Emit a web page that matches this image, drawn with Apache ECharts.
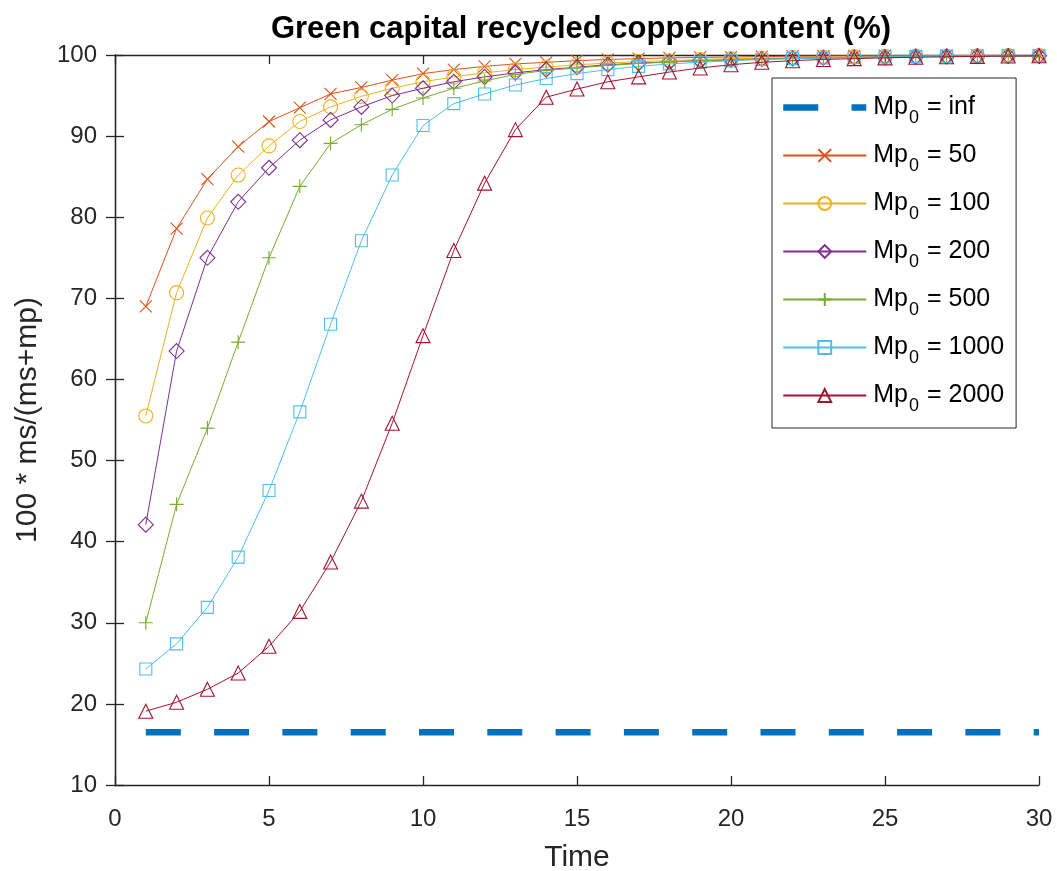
<!DOCTYPE html>
<html>
<head>
<meta charset="utf-8">
<script src="https://cdn.jsdelivr.net/npm/echarts@6/dist/echarts.min.js"></script>
<style>
html,body{margin:0;padding:0;background:#fff;}
#chart{width:1057px;height:871px;}
</style>
</head>
<body>
<div id="chart"></div>
<script>
const time = [1,2,3,4,5,6,7,8,9,10,11,12,13,14,15,16,17,18,19,20,21,22,23,24,25,26,27,28,29,30];
const seriesNames = ['inf','50','100','200','500','1000','2000'];
const mpInf = [16.5,16.5,16.5,16.5,16.5,16.5,16.5,16.5,16.5,16.5,16.5,16.5,16.5,16.5,16.5,16.5,16.5,16.5,16.5,16.5,16.5,16.5,16.5,16.5,16.5,16.5,16.5,16.5,16.5,16.5];
const mp50 = [69.0,78.6,84.7,88.7,91.8,93.5,95.2,96.0,96.9,97.7,98.2,98.6,98.9,99.1,99.3,99.45,99.55,99.65,99.7,99.75,99.8,99.85,99.87,99.9,99.92,99.93,99.94,99.95,99.96,99.97];
const mp100 = [55.5,70.7,79.9,85.2,88.8,91.8,93.6,94.9,95.9,96.7,97.3,97.8,98.2,98.5,98.8,99.0,99.2,99.3,99.45,99.55,99.6,99.7,99.75,99.8,99.83,99.86,99.88,99.9,99.92,99.93];
const mp200 = [42.1,63.5,75.0,81.9,86.1,89.5,92.0,93.6,95.0,95.9,96.7,97.3,97.8,98.2,98.5,98.8,99.0,99.15,99.3,99.4,99.5,99.58,99.65,99.7,99.75,99.8,99.83,99.86,99.88,99.9];
const mp500 = [30.0,44.6,54.0,64.6,75.0,83.8,89.1,91.4,93.3,94.7,95.9,96.8,97.6,98.1,98.4,98.7,98.95,99.15,99.3,99.4,99.5,99.58,99.65,99.7,99.75,99.8,99.83,99.86,99.88,99.9];
const mp1000 = [24.3,27.4,31.9,38.1,46.3,56.0,66.8,77.1,85.2,91.3,94.0,95.2,96.3,97.1,97.7,98.2,98.6,98.9,99.1,99.3,99.45,99.55,99.63,99.7,99.75,99.8,99.84,99.87,99.9,99.92];
const mp2000 = [19.1,20.2,21.8,23.8,27.1,31.4,37.5,45.0,54.6,65.4,75.9,84.2,90.8,94.8,95.8,96.7,97.3,97.9,98.4,98.8,99.1,99.3,99.45,99.55,99.65,99.72,99.78,99.83,99.87,99.9];
const xTicks = [0,5,10,15,20,25,30];
const yTicks = [10,20,30,40,50,60,70,80,90,100];

const FONT = 'Liberation Sans, Arial, Helvetica, sans-serif';
const AX = '#262626';
const colors = ['#0072BD','#D95319','#EDB120','#7E2F8E','#77AC30','#4DBEEE','#A2142F'];
const values = [mpInf, mp50, mp100, mp200, mp500, mp1000, mp2000];
const symbols = ['none','path://M0,0L1,1M1,0L0,1','circle','diamond','path://M0.5,0L0.5,1M0,0.5L1,0.5','rect','triangle'];
const sizes = [0, 12, 14, 15, 14, 12, 14];
const infDash = [35, 33.3];

function pairs(arr){ return time.map((t,i)=>[t, arr[i]]); }

const series = seriesNames.map((n, k) => {
  const s = {
    name: n,
    type: 'line',
    data: pairs(values[k]),
    symbol: symbols[k],
    symbolSize: sizes[k],
    showSymbol: k !== 0,
    animation: false,
    z: k === 0 ? 3 : 2 + k * 0.01,
    lineStyle: {color: colors[k], width: 1},
    itemStyle: {color: 'rgba(0,0,0,0)', borderColor: colors[k], borderWidth: 1.1}
  };
  if (k === 0) {
    s.lineStyle = {color: colors[0], width: 6.5, type: infDash, cap: 'butt'};
    s.itemStyle = {color: colors[0]};
  }
  return s;
});

const chart = echarts.init(document.getElementById('chart'), null, {renderer: 'canvas'});
chart.setOption({
  backgroundColor: '#fff',
  animation: false,
  title: {
    text: 'Green capital recycled copper content (%)',
    left: 576, top: 9, textAlign: 'center',
    textStyle: {fontFamily: FONT, fontWeight: 'bold', fontSize: 31, color: '#000'}
  },
  grid: {left: 115, right: 18, top: 55, bottom: 86, containLabel: false, outerBoundsMode: 'none'},
  legend: {
    orient: 'vertical',
    left: 772, top: 78,
    padding: [17, 12, 13, 8],
    itemWidth: 83, itemHeight: 16, itemGap: 16,
    backgroundColor: '#fff',
    borderColor: AX, borderWidth: 1, borderRadius: 0,
    data: seriesNames.map((n, k) => k === 0
      ? {name: n, itemStyle: {opacity: 0}, lineStyle: {width: 6.5, type: infDash, cap: 'butt', color: colors[0]}}
      : {name: n}),
    formatter: function(name){ return '{g|}Mp{s|0} = ' + name; },
    textStyle: {
      fontFamily: FONT, fontSize: 25, color: '#000',
      rich: {
        g: {width: 2},
        s: {fontFamily: FONT, fontSize: 18, color: '#000', padding: [21, 1, 0, 1]}
      }
    }
  },
  xAxis: [{
    type: 'value', min: 0, max: 30, interval: 5,
    name: 'Time', nameLocation: 'middle', nameGap: 58,
    nameTextStyle: {fontFamily: FONT, fontSize: 30, color: AX},
    axisLine: {show: true, lineStyle: {color: AX, width: 1.3}},
    axisTick: {show: true, inside: true, length: 9, lineStyle: {color: AX, width: 1.3}},
    axisLabel: {fontFamily: FONT, fontSize: 24, color: AX, margin: 22,
      formatter: v => xTicks.indexOf(v) >= 0 ? String(v) : ''},
    splitLine: {show: false}
  }, {
    type: 'value', min: 0, max: 30, interval: 5, position: 'top',
    axisLine: {show: true, lineStyle: {color: AX, width: 1.3}},
    axisTick: {show: true, inside: true, length: 9, lineStyle: {color: AX, width: 1.3}},
    axisLabel: {show: false}, splitLine: {show: false}
  }],
  yAxis: [{
    type: 'value', min: 10, max: 100, interval: 10,
    name: '100 * ms/(ms+mp)', nameLocation: 'middle', nameGap: 72, nameRotate: 90,
    nameTextStyle: {fontFamily: FONT, fontSize: 30, color: AX},
    axisLine: {show: true, lineStyle: {color: AX, width: 1.3}},
    axisTick: {show: true, inside: true, length: 9, lineStyle: {color: AX, width: 1.3}},
    axisLabel: {fontFamily: FONT, fontSize: 24, color: AX, margin: 18,
      formatter: v => yTicks.indexOf(v) >= 0 ? String(v) : ''},
    splitLine: {show: false}
  }, {
    type: 'value', min: 10, max: 100, interval: 10, position: 'right',
    axisLine: {show: true, lineStyle: {color: AX, width: 1.3}},
    axisTick: {show: true, inside: true, length: 9, lineStyle: {color: AX, width: 1.3}},
    axisLabel: {show: false}, splitLine: {show: false}
  }],
  series: series
});
</script>
</body>
</html>
